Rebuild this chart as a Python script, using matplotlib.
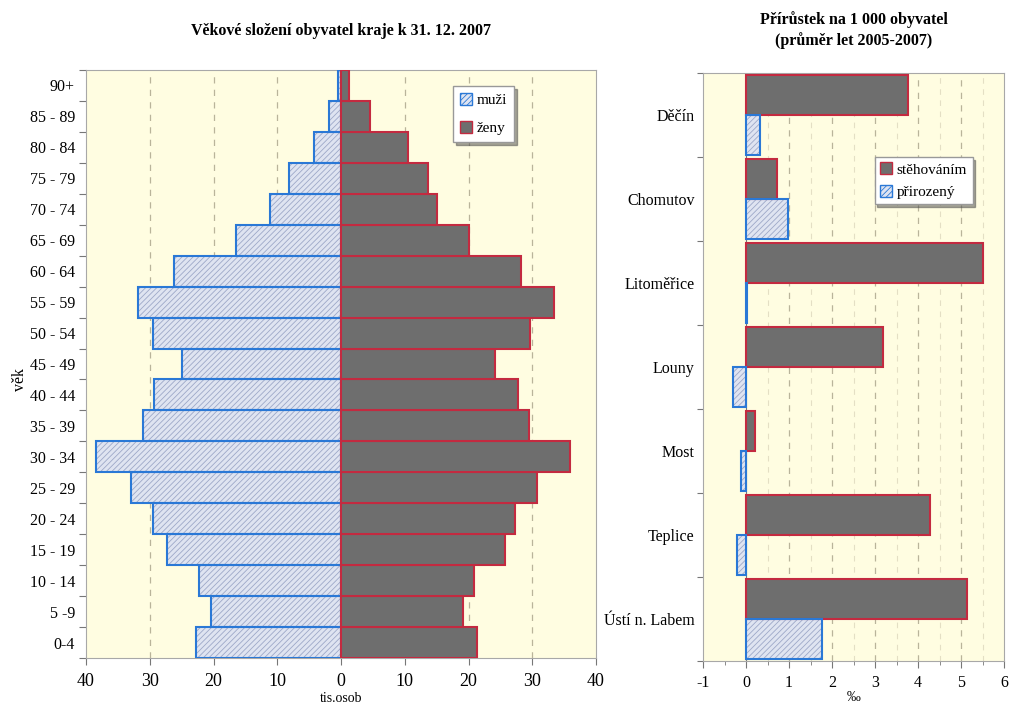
import numpy as np
import matplotlib.pyplot as plt
from matplotlib.ticker import FixedLocator, FuncFormatter
from matplotlib.patches import Patch

plt.rcParams['font.family'] = ['Liberation Serif', 'DejaVu Serif']
plt.rcParams['hatch.linewidth'] = 0.6
plt.rcParams['axes.unicode_minus'] = False

# data - left: age pyramid (thousands)
ages = ['0-4', '5 -9', '10 - 14', '15 - 19', '20 - 24', '25 - 29', '30 - 34',
        '35 - 39', '40 - 44', '45 - 49', '50 - 54', '55 - 59', '60 - 64',
        '65 - 69', '70 - 74', '75 - 79', '80 - 84', '85 - 89', '90+']
muzi = [22.7, 20.4, 22.2, 27.3, 29.5, 32.9, 38.5, 31.1, 29.4, 25.0, 29.5,
        31.8, 26.2, 16.5, 11.2, 8.1, 4.3, 1.9, 0.5]
zeny = [21.4, 19.2, 20.9, 25.8, 27.3, 30.8, 35.9, 29.5, 27.8, 24.1, 29.7,
        33.4, 28.3, 20.0, 15.0, 13.7, 10.5, 4.5, 1.25]

# data - right: increase per 1000 inhabitants
okresy = ['Děčín', 'Chomutov', 'Litoměřice', 'Louny', 'Most', 'Teplice', 'Ústí n. Labem']
stehovanim = [3.77, 0.72, 5.5, 3.19, 0.22, 4.28, 5.15]
prirozeny = [0.33, 0.98, 0.03, -0.30, -0.12, -0.20, 1.76]

BG = '#fffde1'
MEN_FACE = '#dfe4f1'
MEN_HATCH = '#9da8c8'
MEN_EDGE = '#2a78d6'
WOMEN_FACE = '#6e6e6e'
WOMEN_EDGE = '#c32a40'
GRID = '#b9b49a'
SPINE = '#a8a8a8'

fig = plt.figure(figsize=(10.09, 7.11), dpi=100)

# ---------- left chart ----------
ax1 = fig.add_axes([86 / 1009, 1 - 658 / 711, 510 / 1009, 588 / 711])
ax1.set_facecolor(BG)
y = np.arange(len(ages))
neg = -np.array(muzi)
ax1.barh(y, neg, height=1.0, color=MEN_FACE, edgecolor=MEN_HATCH,
         hatch='//////', linewidth=0, zorder=2)
ax1.barh(y, neg, height=1.0, fill=False, edgecolor=MEN_EDGE, linewidth=1.5, zorder=3)
ax1.barh(y, zeny, height=1.0, color=WOMEN_FACE, edgecolor=WOMEN_EDGE,
         linewidth=1.5, zorder=3)

ax1.set_xlim(-40, 40)
ax1.set_ylim(-0.5, len(ages) - 0.5)
ax1.set_xticks(np.arange(-40, 41, 10))
ax1.xaxis.set_major_formatter(FuncFormatter(lambda v, p: f'{abs(int(v))}'))
for gx in [-30, -20, -10, 10, 20, 30]:
    ax1.axvline(gx, color=GRID, linestyle=(0, (5, 5)), linewidth=0.9, zorder=1)

ax1.yaxis.set_major_locator(FixedLocator(np.arange(-0.5, len(ages), 1.0)))
ax1.yaxis.set_minor_locator(FixedLocator(y))
ax1.set_yticklabels([])
ax1.set_yticklabels(ages, minor=True)
ax1.tick_params(axis='y', which='major', length=5, color='#777777')
ax1.tick_params(axis='y', which='minor', length=0, labelsize=11.5, pad=8)
ax1.tick_params(axis='x', length=5, color='#777777', labelsize=13, pad=6)
for s in ax1.spines.values():
    s.set_color(SPINE)
    s.set_linewidth(0.8)

ax1.set_ylabel('věk', fontsize=11.5)
ax1.yaxis.set_label_coords(-0.114, 0.473)
ax1.set_xlabel('tis.osob', fontsize=10, labelpad=1)
ax1.set_title('Věkové složení obyvatel kraje k 31. 12. 2007', fontsize=11.5,
              fontweight='bold', pad=25)

ax1.legend(handles=[Patch(facecolor=MEN_FACE, edgecolor=MEN_EDGE, hatch='//////', label='muži'),
                    Patch(facecolor=WOMEN_FACE, edgecolor=WOMEN_EDGE, label='ženy')],
           loc='upper left', bbox_to_anchor=(0.705, 0.985), fontsize=11,
           handlelength=0.8, handleheight=0.8, handletextpad=0.3,
           labelspacing=0.9, borderpad=0.45, fancybox=False, shadow=True,
           framealpha=1, edgecolor='#999999')

# ---------- right chart ----------
ax2 = fig.add_axes([703 / 1009, 1 - 661 / 711, 301 / 1009, 588 / 711])
ax2.set_facecolor(BG)
yr = np.arange(len(okresy))
ax2.barh(yr - 0.24, stehovanim, height=0.48, color=WOMEN_FACE,
         edgecolor=WOMEN_EDGE, linewidth=1.5, zorder=3)
ax2.barh(yr + 0.24, prirozeny, height=0.48, color=MEN_FACE, edgecolor=MEN_HATCH,
         hatch='//////', linewidth=0, zorder=2)
ax2.barh(yr + 0.24, prirozeny, height=0.48, fill=False, edgecolor=MEN_EDGE,
         linewidth=1.5, zorder=3)

ax2.set_xlim(-1, 6)
ax2.set_ylim(len(okresy) - 0.5, -0.5)
ax2.set_xticks(np.arange(-1, 7, 1))
ax2.set_xticks(np.arange(-0.5, 6, 1.0), minor=True)
for gx in range(1, 6):
    ax2.axvline(gx, color=GRID, linestyle=(0, (5, 5)), linewidth=0.9, zorder=1)
for gx in np.arange(0.5, 6, 1.0):
    ax2.axvline(gx, color='#e4dfc4', linestyle=(0, (5, 5)), linewidth=0.8, zorder=1)
ax2.axvline(0, color='#777777', linewidth=0.8, zorder=1)

ax2.yaxis.set_major_locator(FixedLocator(np.arange(-0.5, len(okresy), 1.0)))
ax2.yaxis.set_minor_locator(FixedLocator(yr))
ax2.set_yticklabels([])
ax2.set_yticklabels(okresy, minor=True)
ax2.tick_params(axis='y', which='major', length=4, color='#777777')
ax2.tick_params(axis='y', which='minor', length=0, labelsize=11.5, pad=6)
ax2.tick_params(axis='x', which='major', length=5, color='#777777', labelsize=11.5, pad=5)
ax2.tick_params(axis='x', which='minor', length=3, color='#777777')
for s in ax2.spines.values():
    s.set_color(SPINE)
    s.set_linewidth(0.8)

ax2.set_xlabel('‰', fontsize=10, labelpad=0)
ax2.set_title('Přírůstek na 1 000 obyvatel\n(průměr let 2005-2007)', fontsize=11.5,
              fontweight='bold', pad=20, linespacing=1.3, x=0.5)

ax2.legend(handles=[Patch(facecolor=WOMEN_FACE, edgecolor=WOMEN_EDGE, label='stěhováním'),
                    Patch(facecolor=MEN_FACE, edgecolor=MEN_EDGE, hatch='//////', label='přirozený')],
           loc='upper left', bbox_to_anchor=(0.545, 0.87), fontsize=11,
           handlelength=0.8, handleheight=0.8, handletextpad=0.3,
           labelspacing=0.55, borderpad=0.35, fancybox=False, shadow=True,
           framealpha=1, edgecolor='#999999')

fig.savefig('out.png', dpi=100, facecolor='white')
